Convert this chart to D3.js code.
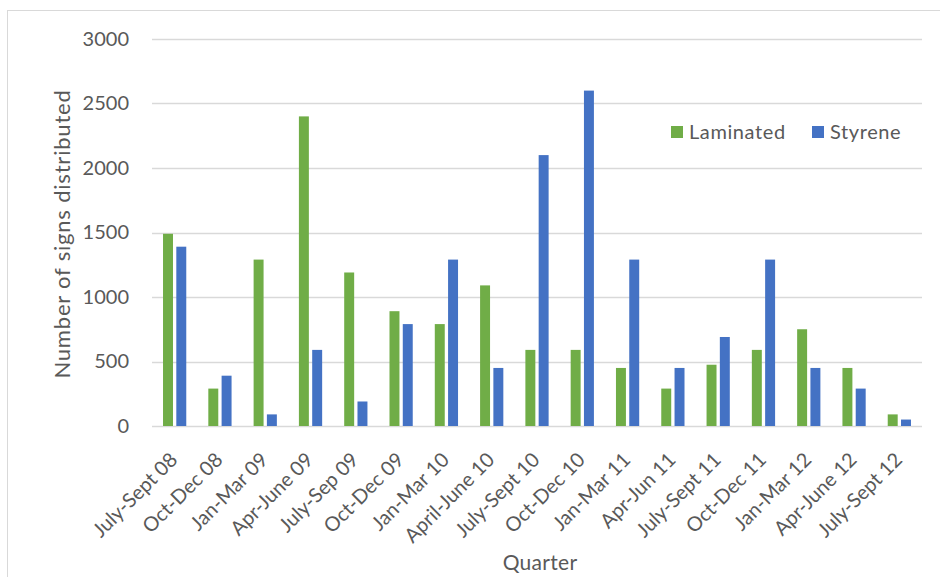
<!DOCTYPE html>
<html>
<head>
<meta charset="utf-8">
<script src="https://cdn.jsdelivr.net/npm/d3@7"></script>
<style>
  body { margin: 0; background: #fff; }
  svg { display: block; font-family: Lato, "Open Sans", sans-serif; }
</style>
</head>
<body>
<svg id="chart" width="940" height="577"></svg>
<script>
// Quarterly sign distribution by material
const quarters = ["July-Sept 08", "Oct-Dec 08", "Jan-Mar 09", "Apr-June 09", "July-Sep 09",
  "Oct-Dec 09", "Jan-Mar 10", "April-June 10", "July-Sept 10", "Oct-Dec 10", "Jan-Mar 11",
  "Apr-Jun 11", "July-Sept 11", "Oct-Dec 11", "Jan-Mar 12", "Apr-June 12", "July-Sept 12"];
const laminated = [1490, 290, 1290, 2400, 1190, 890, 790, 1090, 590, 590, 450, 290, 475, 590, 750, 450, 90];
const styrene   = [1390, 390, 90, 590, 190, 790, 1290, 450, 2100, 2600, 1290, 450, 690, 1290, 450, 290, 50];
const seriesNames = ["Laminated", "Styrene"];
const seriesColors = ["#70AD47", "#4472C4"];
const yTicks = [0, 500, 1000, 1500, 2000, 2500, 3000];

const FONT = "Lato, 'Open Sans', sans-serif";
const TEXT = "#595959";

const svg = d3.select("#chart");
const W = 940, H = 577;
const plot = { left: 152, right: 922, top: 39, bottom: 426 };

// Outer chart frame
svg.append("rect")
  .attr("x", 7.5).attr("y", 10.5)
  .attr("width", W).attr("height", H)
  .attr("fill", "none").attr("stroke", "#d9d9d9").attr("stroke-width", 1);

const x = d3.scaleBand().domain(quarters).range([plot.left, plot.right]).paddingInner(0).paddingOuter(0);
const xs = d3.scaleBand().domain(seriesNames).range([0, x.bandwidth()]).paddingInner(0.25).paddingOuter(0.83);
const y = d3.scaleLinear().domain([0, 3000]).range([plot.bottom, plot.top]);

// Horizontal gridlines
svg.append("g")
  .selectAll("line").data(yTicks).join("line")
  .attr("x1", plot.left).attr("x2", plot.right)
  .attr("y1", d => Math.round(y(d)) + 0.5).attr("y2", d => Math.round(y(d)) + 0.5)
  .attr("stroke", "#d9d9d9").attr("stroke-width", 1.5);

// Y axis tick labels
const yAxis = d3.axisLeft(y).tickValues(yTicks).tickFormat(d3.format("d")).tickSize(0).tickPadding(0);
const gy = svg.append("g").attr("transform", `translate(129,0)`).call(yAxis)
  .attr("font-family", FONT).attr("font-size", 20);
gy.select(".domain").remove();
gy.selectAll("text").attr("fill", TEXT);

// Bars
const groups = svg.append("g").selectAll("g").data(quarters).join("g")
  .attr("transform", d => `translate(${x(d)},0)`);
groups.selectAll("rect")
  .data((d, i) => [
    { s: seriesNames[0], v: laminated[i] },
    { s: seriesNames[1], v: styrene[i] }
  ])
  .join("rect")
  .attr("x", d => xs(d.s))
  .attr("width", xs.bandwidth())
  .attr("y", d => y(d.v))
  .attr("height", d => y(0) - y(d.v))
  .attr("fill", (d, i) => seriesColors[i]);

// X axis labels, rotated
const xAxis = d3.axisBottom(x).tickSize(0).tickPadding(0);
const gx = svg.append("g").attr("transform", `translate(0,${plot.bottom})`).call(xAxis)
  .attr("font-family", FONT).attr("font-size", 20);
gx.select(".domain").remove();
gx.selectAll("text")
  .attr("fill", TEXT)
  .attr("text-anchor", "end")
  .attr("x", 0).attr("y", 0).attr("dy", 0)
  .attr("transform", "translate(4,35) rotate(-45)");

// Axis titles
svg.append("text")
  .attr("transform", "translate(70,234) rotate(-90)")
  .attr("text-anchor", "middle")
  .attr("fill", TEXT).attr("font-size", 22).attr("letter-spacing", 0.8)
  .text("Number of signs distributed");

svg.append("text")
  .attr("x", 540).attr("y", 570)
  .attr("text-anchor", "middle")
  .attr("fill", TEXT).attr("font-size", 21).attr("letter-spacing", 0.3)
  .text("Quarter");

// Legend
const legend = svg.append("g");
const legendPos = [671, 812];
seriesNames.forEach((name, i) => {
  const g = legend.append("g").attr("transform", `translate(${legendPos[i]},126)`);
  g.append("rect").attr("width", 12).attr("height", 12).attr("fill", seriesColors[i]);
  g.append("text").attr("x", 18).attr("y", 6).attr("dy", "0.35em")
    .attr("fill", TEXT).attr("font-size", 20).attr("letter-spacing", 0.6).text(name);
});
</script>
</body>
</html>
